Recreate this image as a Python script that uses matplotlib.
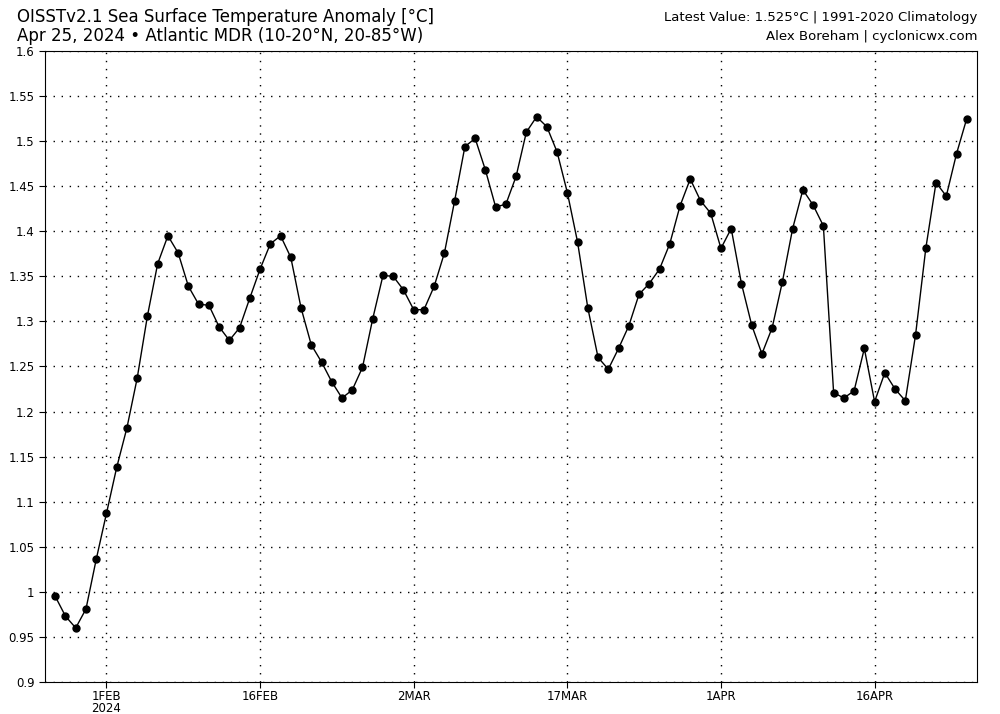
import numpy as np
import pandas as pd
import matplotlib
matplotlib.use("Agg")
import matplotlib.pyplot as plt
from matplotlib.ticker import FuncFormatter

# daily MDR SST anomaly, Jan 27 - Apr 25 2024
start_date = "2024-01-27"
anomaly = [
    0.995, 0.973, 0.960, 0.981, 1.036,
    1.087, 1.138, 1.182, 1.237, 1.306, 1.364, 1.395, 1.376, 1.339, 1.319,
    1.318, 1.294, 1.279, 1.293, 1.326, 1.358, 1.386, 1.395, 1.371, 1.315,
    1.274, 1.255, 1.233, 1.215, 1.224, 1.249, 1.303, 1.351, 1.350,
    1.335, 1.313, 1.313, 1.339, 1.376, 1.434, 1.494, 1.503, 1.468, 1.427,
    1.430, 1.461, 1.510, 1.527, 1.516, 1.488, 1.443, 1.388, 1.315, 1.260,
    1.247, 1.270, 1.295, 1.330, 1.342, 1.358, 1.386, 1.428, 1.458, 1.434,
    1.420,
    1.381, 1.403, 1.342, 1.296, 1.264, 1.293, 1.344, 1.403, 1.446, 1.429,
    1.406, 1.221, 1.215, 1.223, 1.270, 1.211, 1.243, 1.225, 1.212, 1.285,
    1.381, 1.454, 1.439, 1.486, 1.525,
]
dates = pd.date_range(start_date, periods=len(anomaly), freq="D")

tick_dates = pd.to_datetime(["2024-02-01", "2024-02-16", "2024-03-02",
                             "2024-03-17", "2024-04-01", "2024-04-16"])
tick_labels = ["1FEB\n2024", "16FEB", "2MAR", "17MAR", "1APR", "16APR"]
y_ticks = np.arange(0.9, 1.6001, 0.05)

fig = plt.figure(figsize=(10, 7.14), dpi=100)
ax = fig.add_axes([0.045, 0.0448, 0.932, 0.8838])

ax.plot(dates, anomaly, color="black", lw=1, marker="o", ms=5, zorder=3)

ax.set_xlim(pd.Timestamp("2024-01-26"), pd.Timestamp("2024-04-26"))
ax.set_ylim(0.9, 1.6)
ax.set_xticks(tick_dates)
ax.set_xticklabels(tick_labels, fontsize=8.5, linespacing=0.9)
ax.set_yticks(y_ticks)
ax.yaxis.set_major_formatter(FuncFormatter(lambda v, p: f"{v:.2f}".rstrip("0").rstrip(".")))
ax.tick_params(axis="y", labelsize=8.5, length=4)
ax.tick_params(axis="x", length=4, pad=2)
ax.grid(True, color="black", linestyle=(0, (1, 4.8)), linewidth=1.0)

fig.text(0.017, 0.963, "OISSTv2.1 Sea Surface Temperature Anomaly [°C]", fontsize=12, va="bottom")
fig.text(0.017, 0.937, "Apr 25, 2024 \u2022 Atlantic MDR (10-20°N, 20-85°W)", fontsize=12, va="bottom")
fig.text(0.977, 0.966, "Latest Value: 1.525°C | 1991-2020 Climatology", fontsize=9.5, ha="right", va="bottom")
fig.text(0.977, 0.940, "Alex Boreham | cyclonicwx.com", fontsize=9.5, ha="right", va="bottom")

fig.savefig("out.png", dpi=100)
